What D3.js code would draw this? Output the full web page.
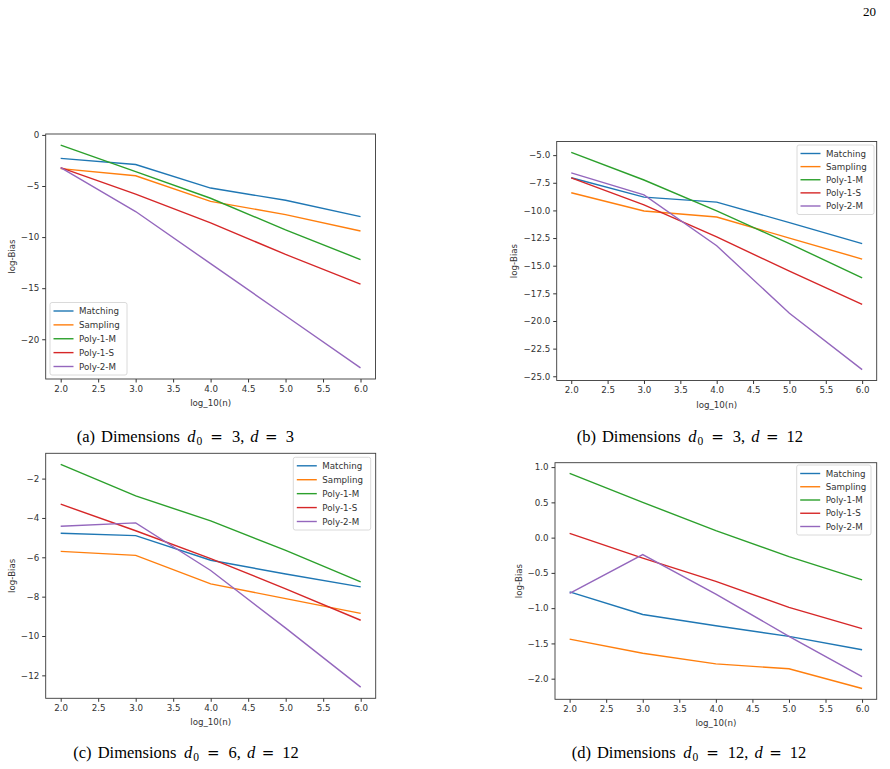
<!DOCTYPE html>
<html>
<head>
<meta charset="utf-8">
<script src="https://cdn.jsdelivr.net/npm/d3@7"></script>
<style>
  html, body { margin: 0; padding: 0; background: #fff; }
  svg { display: block; }
  .tick text { font-family: "DejaVu Sans", sans-serif; font-size: 8.7px; fill: #333; }
  .tick line { stroke: #333; }
  .domain { display: none; }
</style>
</head>
<body>
<script>
// x values: log_10(n)
var logN = [2.0, 3.0, 4.0, 5.0, 6.0];
var seriesNames = ["Matching", "Sampling", "Poly-1-M", "Poly-1-S", "Poly-2-M"];
var seriesColors = ["#1f77b4", "#ff7f0e", "#2ca02c", "#d62728", "#9467bd"];
var xTicks = [2.0, 2.5, 3.0, 3.5, 4.0, 4.5, 5.0, 5.5, 6.0];

// (a) d0 = 3, d = 3
var biasA = [
  [-2.3, -2.9, -5.2, -6.4, -8.0],
  [-3.3, -4.0, -6.5, -7.8, -9.4],
  [-1.0, -3.6, -6.2, -9.3, -12.2],
  [-3.2, -5.8, -8.6, -11.7, -14.6],
  [-3.2, -7.5, -12.6, -17.7, -22.8]
];
var yTicksA = [0, -5, -10, -15, -20];

// (b) d0 = 3, d = 12
var biasB = [
  [-7.05, -8.8, -9.25, -11.1, -13.0],
  [-8.4, -10.05, -10.6, -12.5, -14.4],
  [-4.75, -7.25, -10.05, -13.0, -16.1],
  [-7.05, -9.5, -12.4, -15.5, -18.5],
  [-6.6, -8.6, -13.2, -19.3, -24.4]
];
var yTicksB = [-5.0, -7.5, -10.0, -12.5, -15.0, -17.5, -20.0, -22.5, -25.0];

// (c) d0 = 6, d = 12
var biasC = [
  [-4.78, -4.9, -6.15, -6.85, -7.5],
  [-5.7, -5.9, -7.35, -8.1, -8.85],
  [-1.28, -2.88, -4.15, -5.65, -7.25],
  [-3.3, -4.65, -6.07, -7.6, -9.2],
  [-4.42, -4.25, -6.67, -9.6, -12.6]
];
var yTicksC = [-2, -4, -6, -8, -10, -12];

// (d) d0 = 12, d = 12
var biasD = [
  [-0.77, -1.09, -1.25, -1.4, -1.59],
  [-1.44, -1.64, -1.79, -1.86, -2.14],
  [0.91, 0.5, 0.1, -0.27, -0.6],
  [0.06, -0.29, -0.62, -0.99, -1.29],
  [-0.79, -0.24, -0.8, -1.4, -1.97]
];
var yTicksD = [1.0, 0.5, 0.0, -0.5, -1.0, -1.5, -2.0];

var width = 890, height = 769;

var svg = d3.select("body").append("svg")
  .attr("width", width)
  .attr("height", height);

// page number
svg.append("text")
  .attr("x", 876).attr("y", 16)
  .attr("text-anchor", "end")
  .style("font-family", "'Liberation Serif', serif")
  .style("font-size", "13px")
  .text("20");

var panels = [
  { data: biasA, yTicks: yTicksA, fmt: d3.format("d"), l: 45.7, r: 375.5, t: 134, b: 379,
    leg: { x: 50, y: 302.5, w: 77, h: 72.5 }, ylabX: 12, capX: 76.7, capY: 442, letter: "a", d0: "3", d: "3" },
  { data: biasB, yTicks: yTicksB, fmt: d3.format(".1f"), l: 556.7, r: 876.7, t: 141.5, b: 380.5,
    leg: { x: 797, y: 145, w: 77, h: 69.5 }, ylabX: 514, capX: 576.7, capY: 442, letter: "b", d0: "3", d: "12" },
  { data: biasC, yTicks: yTicksC, fmt: d3.format("d"), l: 45.7, r: 375.7, t: 453.3, b: 698.3,
    leg: { x: 293.3, y: 457.3, w: 77.4, h: 72.7 }, ylabX: 12, capX: 73.3, capY: 758, letter: "c", d0: "6", d: "12" },
  { data: biasD, yTicks: yTicksD, fmt: d3.format(".1f"), l: 555, r: 876.7, t: 462.7, b: 699.3,
    leg: { x: 796.7, y: 465, w: 74.3, h: 70 }, ylabX: 518.5, capX: 571.7, capY: 758, letter: "d", d0: "12", d: "12" }
];

panels.forEach(function(p) {
  var g = svg.append("g");

  var allVals = d3.merge(p.data);
  var lo = d3.min(allVals), hi = d3.max(allVals);
  var pad = (hi - lo) * 0.05;

  var x = d3.scaleLinear().domain([1.8, 6.2]).range([p.l, p.r]);
  var y = d3.scaleLinear().domain([lo - pad, hi + pad]).range([p.b, p.t]);

  // axes
  g.append("g")
    .attr("transform", "translate(0," + p.b + ")")
    .call(d3.axisBottom(x).tickValues(xTicks).tickFormat(d3.format(".1f")).tickSize(3.5).tickPadding(3));

  g.append("g")
    .attr("transform", "translate(" + p.l + ",0)")
    .call(d3.axisLeft(y).tickValues(p.yTicks).tickFormat(p.fmt).tickSize(3.5).tickPadding(3));

  // lines
  var line = d3.line()
    .x(function(d, i) { return x(logN[i]); })
    .y(function(d) { return y(d); });

  p.data.forEach(function(s, i) {
    g.append("path")
      .datum(s)
      .attr("d", line)
      .attr("fill", "none")
      .attr("stroke", seriesColors[i])
      .attr("stroke-width", 1.4);
  });

  // frame
  g.append("rect")
    .attr("x", p.l).attr("y", p.t)
    .attr("width", p.r - p.l).attr("height", p.b - p.t)
    .attr("fill", "none")
    .attr("stroke", "#3a3a3a")
    .attr("stroke-width", 0.9);

  // axis labels
  g.append("text")
    .attr("x", (p.l + p.r) / 2).attr("y", p.b + 27)
    .attr("text-anchor", "middle")
    .style("font-family", "'DejaVu Sans', sans-serif")
    .style("font-size", "8.7px")
    .style("fill", "#333")
    .text("log_10(n)");

  g.append("text")
    .attr("transform", "translate(" + p.ylabX + "," + ((p.t + p.b) / 2) + ") rotate(-90)")
    .attr("text-anchor", "middle")
    .attr("dy", "0.35em")
    .style("font-family", "'DejaVu Sans', sans-serif")
    .style("font-size", "8.7px")
    .style("fill", "#333")
    .text("log-Bias");

  // legend
  var L = p.leg;
  var lg = g.append("g");
  lg.append("rect")
    .attr("x", L.x).attr("y", L.y)
    .attr("width", L.w).attr("height", L.h)
    .attr("rx", 2)
    .attr("fill", "#fff").attr("fill-opacity", 0.8)
    .attr("stroke", "#d0d0d0").attr("stroke-width", 0.8);

  seriesNames.forEach(function(name, i) {
    var cy = L.y + 8.5 + i * ((L.h - 17) / 4);
    lg.append("line")
      .attr("x1", L.x + 3.5).attr("x2", L.x + 23.5)
      .attr("y1", cy).attr("y2", cy)
      .attr("stroke", seriesColors[i]).attr("stroke-width", 1.4);
    lg.append("text")
      .attr("x", L.x + 29).attr("y", cy)
      .attr("dy", "0.35em")
      .style("font-family", "'DejaVu Sans', sans-serif")
      .style("font-size", "8.7px")
      .style("fill", "#333")
      .text(name);
  });

  // caption (LaTeX-like spacing around the math)
  var cap = svg.append("text")
    .attr("x", p.capX).attr("y", p.capY)
    .style("font-family", "'Liberation Serif', 'Times New Roman', serif")
    .style("font-size", "16.5px")
    .style("fill", "#000");
  var eq = "'DejaVu Serif', serif";
  cap.append("tspan").text("(" + p.letter + ")");
  cap.append("tspan").attr("dx", 6).text("Dimensions");
  cap.append("tspan").attr("dx", 7.5).style("font-style", "italic").text("d");
  cap.append("tspan").attr("dx", 1).attr("dy", 3).style("font-size", "11.5px").text("0");
  cap.append("tspan").attr("dx", 8).attr("dy", -3).style("font-family", eq).style("font-size", "15px").text("=");
  cap.append("tspan").attr("dx", 9).text(p.d0 + ",");
  cap.append("tspan").attr("dx", 6).style("font-style", "italic").text("d");
  cap.append("tspan").attr("dx", 6.5).style("font-family", eq).style("font-size", "15px").text("=");
  cap.append("tspan").attr("dx", 8).text(p.d);
});
</script>
</body>
</html>
